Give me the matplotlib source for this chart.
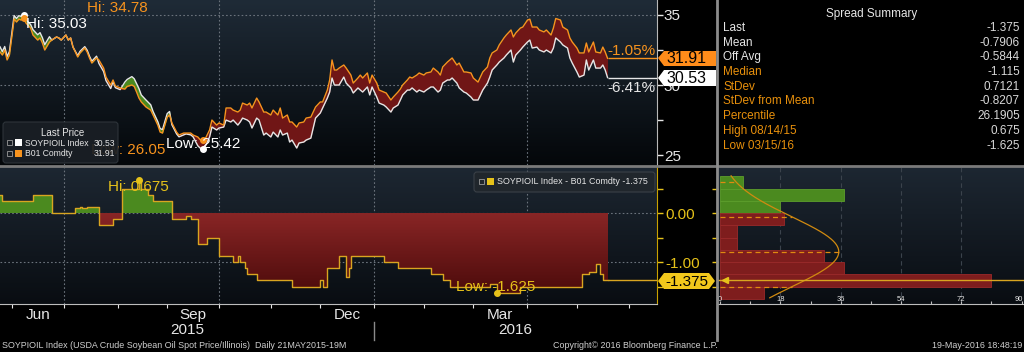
import numpy as np
import pandas as pd
import matplotlib
matplotlib.use('Agg')
import matplotlib.pyplot as plt
from matplotlib.colors import LinearSegmentedColormap
from matplotlib.patches import Polygon, FancyBboxPatch, Rectangle
from matplotlib.lines import Line2D
from matplotlib.transforms import Affine2D, blended_transform_factory

plt.rcParams['font.family'] = ['Liberation Sans', 'DejaVu Sans']

# trading days counted from 21 May 2015
day = [2, 3, 4, 5, 6, 7, 8, 9, 10, 11, 12, 13, 15, 16, 18, 19, 20, 21, 23, 24,
       26, 27, 28, 30, 31, 32, 33, 35, 36, 38, 39, 40, 41, 43, 44, 46, 47, 49, 50, 51,
       53, 55, 56, 58, 59, 60, 61, 62, 64, 66, 67, 69, 70, 71, 72, 73, 74, 75, 77, 78,
       80, 81, 83, 84, 86, 87, 88, 89, 91, 92, 94, 95, 97, 98, 100, 101, 103, 104, 105, 107,
       108, 109, 111, 112, 114, 115, 117, 118, 120, 121, 122, 124, 125, 126, 128, 129, 131, 132, 134, 136,
       138, 139, 141, 142, 143, 144, 145, 146, 148, 149, 151, 152, 154, 155, 156, 158, 159, 160, 162, 163,
       165, 166, 168, 169, 171, 172, 173, 175, 176, 177, 179, 180, 182, 183, 185, 186, 188, 189, 190, 192,
       193, 194, 196, 197, 199, 200, 202, 203, 205, 206, 207, 209, 210, 211, 213, 214, 216, 217, 219, 220,
       221, 223, 224, 226, 227, 228, 230, 231, 233, 234, 236, 237, 238, 240, 241, 243, 244, 245, 247, 248,
       250, 251, 252, 254, 255, 257, 258, 259, 260]

b01 = [32.36, 32.14, 32.50, 31.79, 32.14, 33.43, 34.71, 34.50, 34.70, 34.64, 34.78, 34.43, 34.07, 33.57, 33.21, 33.36, 33.00, 32.50, 33.07, 33.21,
       33.43, 33.36, 33.21, 33.57, 33.21, 33.36, 32.71, 32.00, 32.29, 32.64, 32.36, 31.93, 31.57, 31.93, 31.79, 31.21, 30.57, 30.00, 30.36, 29.93,
       29.79, 29.71, 29.90, 30.00, 29.90, 29.50, 29.07, 28.79, 28.43, 28.21, 27.86, 27.14, 26.64, 26.57, 27.14, 27.71, 27.86, 27.29, 26.64, 26.43,
       26.57, 26.57, 26.57, 26.43, 26.29, 26.10, 26.05, 26.10, 26.79, 27.50, 27.14, 27.29, 27.14, 28.36, 28.36, 28.21, 28.07, 28.21, 28.71, 28.57,
       28.71, 28.36, 29.07, 28.79, 28.07, 28.07, 27.86, 28.21, 27.86, 28.36, 27.64, 27.86, 27.36, 27.36, 27.00, 27.29, 27.36, 27.64, 27.71, 28.43,
       28.79, 28.79, 29.64, 30.36, 31.79, 31.07, 31.07, 31.21, 31.43, 31.21, 30.71, 30.14, 30.50, 30.71, 30.50, 30.86, 30.14, 30.71, 30.14, 29.64,
       29.50, 29.43, 28.93, 29.14, 29.50, 29.71, 30.00, 30.36, 30.57, 30.50, 30.71, 30.86, 30.71, 30.86, 30.93, 31.21, 30.93, 30.71, 31.29, 31.64,
       31.79, 31.93, 31.43, 31.57, 30.93, 30.93, 30.86, 30.50, 30.21, 30.57, 30.93, 31.29, 31.93, 32.29, 32.50, 32.86, 33.36, 33.57, 33.93, 33.43,
       33.71, 34.07, 34.14, 34.64, 34.70, 34.14, 34.14, 33.93, 33.79, 33.93, 33.57, 34.07, 34.75, 34.64, 34.14, 33.93, 33.36, 33.07, 32.64, 32.29,
       32.29, 33.00, 32.36, 33.07, 32.36, 32.29, 32.71, 32.36, 31.91]

soy = [32.73, 32.39, 32.75, 32.04, 32.39, 33.68, 34.96, 34.75, 34.95, 34.89, 35.03, 34.68, 34.32, 33.95, 33.59, 33.74, 33.38, 32.88, 33.45, 33.21,
       33.43, 33.36, 33.21, 33.57, 33.21, 33.36, 32.71, 32.10, 32.41, 32.74, 32.49, 32.06, 31.70, 32.06, 31.54, 30.96, 30.32, 29.75, 30.24, 29.81,
       29.67, 30.21, 30.40, 30.60, 30.45, 30.10, 29.75, 29.29, 28.93, 28.59, 28.11, 27.39, 26.89, 26.82, 27.39, 27.96, 28.11, 27.16, 26.51, 26.30,
       26.44, 26.51, 26.44, 26.30, 25.66, 25.50, 25.42, 25.55, 26.29, 27.00, 26.79, 26.93, 27.00, 27.50, 27.36, 27.50, 27.14, 27.36, 27.64, 27.50,
       27.36, 26.93, 27.64, 27.50, 26.43, 26.57, 26.29, 26.64, 26.29, 26.79, 26.43, 26.57, 25.93, 26.07, 25.50, 25.86, 25.93, 26.07, 26.21, 27.64,
       28.00, 28.36, 29.07, 29.50, 30.50, 30.00, 30.00, 30.00, 30.57, 30.14, 29.79, 29.43, 29.79, 29.64, 29.50, 29.86, 29.29, 29.86, 29.14, 28.71,
       28.57, 28.43, 28.07, 28.36, 28.57, 28.93, 29.29, 29.64, 29.64, 29.79, 29.50, 29.64, 29.50, 29.64, 29.86, 29.86, 29.50, 29.64, 30.14, 30.36,
       30.36, 30.50, 30.14, 29.79, 29.50, 29.43, 29.14, 28.93, 28.93, 29.29, 29.64, 30.14, 30.57, 31.07, 31.43, 31.64, 31.93, 32.14, 32.50, 31.64,
       32.14, 32.50, 32.71, 33.07, 33.21, 32.64, 32.71, 32.50, 32.36, 32.50, 32.29, 32.64, 33.36, 33.07, 32.86, 32.64, 31.93, 31.57, 30.93, 30.57,
       30.71, 31.79, 31.07, 31.79, 31.21, 31.21, 31.43, 31.07, 30.53]

spread_day = [0, 3, 16, 24, 34, 36, 37, 39, 44, 50, 54, 61, 62, 65, 67, 75, 81, 83, 86, 90,
              95, 101, 103, 104, 106, 107, 111, 126, 138, 139, 141, 146, 149, 150, 151, 165, 171, 185, 190, 193,
              210, 213, 223, 249, 252, 255, 257, 258, 260]
spread_val = [0.375, 0.25, 0.375, 0.0, 0.10, 0.125, 0.10, 0.125, -0.25, -0.125, 0.5, 0.675, 0.5, 0.375, 0.25, -0.125, -0.0625, -0.125, -0.625, -0.5,
              -0.875, -1.0, -0.875, -1.0, -1.125, -1.25, -1.375, -1.5, -1.375, -1.5, -1.125, -0.875, -1.3, -1.125, -0.875, -1.0, -1.125, -1.25, -1.375, -1.5,
              -1.45, -1.625, -1.5, -1.25, -1.2, -1.05, -1.25, -1.375, -1.375]

hist_bottom = [0.5, 0.25, 0.0, -0.25, -0.5, -0.75, -1.0, -1.25, -1.5, -1.75]
hist_count = [7, 37, 18, 19, 5, 5, 31, 37, 81, 13]

summary_labels = ['Last', 'Mean', 'Off Avg', 'Median', 'StDev', 'StDev from Mean',
                  'Percentile', 'High 08/14/15', 'Low 03/15/16']
summary_values = ['-1.375', '-0.7906', '-0.5844', '-1.115', '0.7121', '-0.8207',
                  '26.1905', '0.675', '-1.625']
spread_mean = -0.7906
spread_sd = 0.7121

ORANGE = '#f7931e'
WHITE = '#e6e6e6'
YELLOW = '#e6c21a'
RED = '#701616'
GREEN = '#4b8a1f'

W, H = 1024, 352
fig = plt.figure(figsize=(W / 100, H / 100), dpi=100, facecolor='black')
px = Affine2D().scale(1 / W, -1 / H).translate(0, 1) + fig.transFigure


def gradient(ax, top, bottom):
    cm = LinearSegmentedColormap.from_list('g', [bottom, top])
    ax.imshow(np.linspace(0, 1, 256)[:, None], extent=[0, 1, 0, 1], transform=ax.transAxes,
              origin='lower', aspect='auto', cmap=cm, zorder=0)


dates = pd.bdate_range('2015-05-21', '2016-07-15')
mstart = [i for i in range(1, len(dates)) if dates[i].month != dates[i - 1].month]
XMIN, XMAX = 2, 281
quarters = [i for i in mstart if dates[i].month in (1, 4, 7, 10) and i < XMAX]
jan = [i for i in mstart if dates[i].month == 1][0]

day = np.array(day)
b01 = np.array(b01)
soy = np.array(soy)

# ---- top panel
ax1 = fig.add_axes([0, 1 - 165 / H, 657 / W, 165 / H])
gradient(ax1, '#1f2b37', '#04070a')
ax1.fill_between(day, b01, np.maximum(soy, b01), color=GREEN, lw=0, zorder=2)
ax1.fill_between(day, np.minimum(soy, b01), b01, color=RED, lw=0, zorder=2)
ax1.plot(day, soy, color=WHITE, lw=1.0, zorder=3)
ax1.plot(day, b01, color=ORANGE, lw=1.0, zorder=4)
ax1.hlines(soy[-1], day[-1], XMAX, color=WHITE, lw=1.0, zorder=3)
ax1.hlines(b01[-1], day[-1], XMAX, color=ORANGE, lw=1.0, zorder=4)
for v in (30, 35):
    ax1.axhline(v, color='#6b737c', lw=0.8, ls=(0, (1.5, 2)), zorder=1)
for q in quarters:
    ax1.axvline(q, color='#6b737c', lw=0.8, ls=(0, (1.5, 2)), zorder=1)
ax1.yaxis.tick_right()
ax1.set_yticks([25, 30, 35])
ax1.set_yticks([27.5, 32.5], minor=True)
ax1.tick_params(axis='y', which='both', colors=WHITE, labelsize=11, length=4, width=1, pad=1)
ax1.set_xticks([])
ax1.set_xlim(XMIN, XMAX)
ax1.set_ylim(24.29, 36.07)
for s in ('top', 'left', 'bottom'):
    ax1.spines[s].set_visible(False)
ax1.spines['right'].set_color('#b8b8b8')

ih = int(np.argmax(soy))
ax1.plot(day[ih], soy[ih], 'o', color='white', ms=4, zorder=6)
ax1.annotate('Hi: %.2f' % soy[ih], (day[ih], soy[ih]), xytext=(2, -9), textcoords='offset pixels',
             color='white', fontsize=11, va='center', ha='left', zorder=7)
ih = int(np.argmax(b01))
ax1.plot(day[ih], b01[ih], 'o', color=ORANGE, ms=4, zorder=6)
ax1.annotate('Hi: %.2f' % b01[ih], (day[ih], b01[ih]), xytext=(63, 10), textcoords='offset pixels',
             color=ORANGE, fontsize=11, va='center', ha='left', zorder=7)
il = int(np.argmin(soy))
ax1.plot(day[il], soy[il], 'o', color='white', ms=4, zorder=6)
ax1.annotate('Low: %.2f' % soy[il], (day[il], soy[il]), xytext=(-37, 5), textcoords='offset pixels',
             color='white', fontsize=11, va='center', ha='left', zorder=7)
il = int(np.argmin(b01))
ax1.plot(day[il], b01[il], 'o', color=ORANGE, ms=4, zorder=6)
ax1.annotate('Low: %.2f' % b01[il], (day[il], b01[il]), xytext=(-112, -10), textcoords='offset pixels',
             color=ORANGE, fontsize=11, va='center', ha='left', zorder=5)

# legend of top panel
ax1.add_patch(FancyBboxPatch((3, 122), 115, 41, boxstyle='round,pad=0,rounding_size=3', transform=px,
                             facecolor='#1a1f25', edgecolor='#30363c', lw=0.8, alpha=0.93, zorder=8))
fig.text(63, 133, 'Last Price', transform=px, color=WHITE, fontsize=7, ha='center', va='center', zorder=9)
for yy, col, name, val in ((143, 'white', 'SOYPIOIL Index', soy[-1]), (154, ORANGE, 'B01 Comdty', b01[-1])):
    fig.add_artist(Rectangle((7, yy - 3), 5, 5, transform=px, facecolor='none', edgecolor='#9a9a9a', lw=0.6))
    fig.add_artist(Rectangle((15, yy - 4), 7, 7, transform=px, facecolor=col, edgecolor='none'))
    fig.text(25, yy, name, transform=px, color=WHITE, fontsize=6.2, va='center')
    fig.text(115, yy, '%.2f' % val, transform=px, color=WHITE, fontsize=6.2, va='center', ha='right')

fig.text(655, 51, '-1.05%', transform=px, color=ORANGE, fontsize=11, ha='right', va='center')
fig.text(655, 88, '-6.41%', transform=px, color=WHITE, fontsize=11, ha='right', va='center')

fig.add_artist(Polygon([(658, 58), (664, 51), (716, 51), (716, 66), (664, 66)], transform=px,
                       facecolor='#ff8c1a', edgecolor='none'))
fig.text(666, 58.5, '%.2f' % b01[-1], transform=px, color='black', fontsize=11.5, va='center')
fig.add_artist(Polygon([(658, 78), (664, 70), (716, 70), (716, 86), (664, 86)], transform=px,
                       facecolor='white', edgecolor='none'))
fig.text(666, 78.5, '%.2f' % soy[-1], transform=px, color='black', fontsize=11.5, va='center')

# ---- spread panel
sd = np.array(spread_day)
sv = np.array(spread_val)
ax2 = fig.add_axes([0, 1 - 304 / H, 657 / W, 137 / H])
gradient(ax2, '#1d2732', '#090d12')
for v in (0, -1):
    ax2.axhline(v, color='#6b737c', lw=0.8, ls=(0, (1.5, 2)), zorder=1)
for q in quarters:
    ax2.axvline(q, color='#6b737c', lw=0.8, ls=(0, (1.5, 2)), zorder=1)
ax2.fill_between(sd, np.maximum(sv, 0), 0, step='post', color=GREEN, lw=0, zorder=2)
neg = ax2.fill_between(sd, np.minimum(sv, 0), 0, step='post', facecolor='none', lw=0, zorder=2)
red_cm = LinearSegmentedColormap.from_list('r', ['#4a0a0a', '#8a2626'])
img = ax2.imshow(np.linspace(0, 1, 256)[:, None], extent=[0, XMAX, -1.7, 0], origin='lower',
                 aspect='auto', cmap=red_cm, zorder=2)
img.set_clip_path(neg.get_paths()[0], ax2.transData)
ax2.plot(sd, sv, drawstyle='steps-post', color='#d9a520', lw=1.0, zorder=3)
ax2.hlines(sv[-1], sd[-1], XMAX, color='#d9a520', lw=1.0, zorder=3)
ih = int(np.argmax(sv))
ax2.plot(sd[ih], sv[ih], 'o', color=YELLOW, ms=4, zorder=5)
ax2.annotate('Hi: %.3f' % sv[ih], (sd[ih], sv[ih]), xytext=(-31, -7), textcoords='offset pixels',
             color=YELLOW, fontsize=11, va='center', ha='left', zorder=6)
il = int(np.argmin(sv))
ax2.plot(sd[il], sv[il], 'o', color=YELLOW, ms=4, zorder=5)
ax2.annotate('Low: %.3f' % sv[il], (sd[il], sv[il]), xytext=(-41, 6), textcoords='offset pixels',
             color=YELLOW, fontsize=11, va='center', ha='left', zorder=6)
ax2.yaxis.tick_right()
ax2.set_yticks([0, -1])
ax2.set_yticklabels(['0.00', '-1.00'])
ax2.set_yticks([0.5, -0.5, -1.5], minor=True)
ax2.tick_params(axis='y', which='both', colors=YELLOW, labelsize=11, length=4, width=1, pad=2)
ticks = [i for i in mstart if i < XMAX]
ax2.set_xticks(ticks)
ax2.set_xticklabels([])
ax2.tick_params(axis='x', colors=WHITE, length=3, width=0.8, direction='out')
mids = [(a + b) / 2 for a, b in zip(mstart[:-1], mstart[1:]) if (a + b) / 2 < day[-1]]
ax2.set_xticks(mids, minor=True)
ax2.set_xticklabels([dates[int(m)].strftime('%b') if dates[int(m)].month in (6, 9, 12, 3) else ''
                     for m in mids], minor=True)
ax2.tick_params(axis='x', which='minor', length=0, colors=WHITE, labelsize=11, pad=3)
ax2.set_xlim(XMIN, XMAX)
ax2.set_ylim(-1.857, 0.94)
for s in ('top', 'left'):
    ax2.spines[s].set_visible(False)
ax2.spines['right'].set_color('#c9a200')
ax2.spines['bottom'].set_color('#bdbdbd')
bt = blended_transform_factory(ax2.transData, ax2.transAxes)
ax2.text((XMIN + jan) / 2, -0.19, '2015', transform=bt, color=WHITE, fontsize=11, ha='center', va='center')
ax2.text((jan + XMAX) / 2, -0.19, '2016', transform=bt, color=WHITE, fontsize=11, ha='center', va='center')
ax2.plot([jan, jan], [-0.13, -0.26], transform=bt, color='#8a8a8a', lw=1, clip_on=False)

ax2.add_patch(FancyBboxPatch((474, 172), 181, 20, boxstyle='round,pad=0,rounding_size=3', transform=px,
                             facecolor='#20262c', edgecolor='#3a4047', lw=0.8, zorder=8))
fig.add_artist(Rectangle((479, 179), 5, 5, transform=px, facecolor='none', edgecolor='#9a9a9a', lw=0.6))
fig.add_artist(Rectangle((487, 178), 7, 7, transform=px, facecolor=YELLOW, edgecolor='none'))
fig.text(497, 182, 'SOYPIOIL Index - B01 Comdty %.3f' % sv[-1], transform=px, color=WHITE,
         fontsize=6.4, va='center')

fig.add_artist(Polygon([(658, 281), (664, 273), (709, 273), (715, 281), (709, 289), (664, 289)],
                       transform=px, facecolor='#f2c81c', edgecolor='none'))
fig.text(686.5, 281.5, '%.3f' % sv[-1], transform=px, color='black', fontsize=11, ha='center', va='center')

# ---- histogram panel
ax3 = fig.add_axes([718 / W, 1 - 304 / H, 306 / W, 137 / H])
gradient(ax3, '#1d2732', '#090d12')
for v in (18, 36, 54, 72):
    ax3.axvline(v, color='#3b434c', lw=0.8, ls=(0, (4, 3)), zorder=1)
hb = np.array(hist_bottom)
cols = [GREEN if b >= 0 else '#7e1d1d' for b in hb]
edges = ['#5d9e2c' if b >= 0 else '#9a2a2a' for b in hb]
ax3.barh(hb, hist_count, height=0.25, align='edge', color=cols, edgecolor=edges, lw=0.6, zorder=2)
yy = np.linspace(-1.73, 0.76, 200)
scale = sum(hist_count) * 0.25 / (spread_sd * np.sqrt(2 * np.pi))
ax3.plot(scale * np.exp(-0.5 * ((yy - spread_mean) / spread_sd) ** 2), yy, color='#d08a10', lw=0.9, zorder=4)
for k in (-1, 0, 1, 2):
    y0 = spread_mean + k * spread_sd
    ax3.plot([0, scale * np.exp(-0.5 * k * k)], [y0, y0], color='#e08a10', lw=0.9, ls=(0, (4, 3)), zorder=4)
ax3.axhline(sv[-1], color='#d9a520', lw=1.0, zorder=5)
ax3.plot(1.5, sv[-1], marker='<', color=YELLOW, ms=5, zorder=6)
for v in (0, 18, 36, 54, 72, 90):
    ax3.text(min(v, 89.2), -1.77, str(v), color=WHITE, fontsize=5.5, ha='center', va='center', zorder=6)
ax3.set_xticks(np.arange(0, 91, 9))
ax3.set_xticklabels([])
ax3.tick_params(axis='x', colors='#bdbdbd', length=2, direction='in')
ax3.set_yticks([0, -1])
ax3.set_yticks([0.5, -0.5, -1.5], minor=True)
ax3.set_yticklabels([])
ax3.tick_params(axis='y', which='both', colors=YELLOW, length=4, width=1, direction='out')
ax3.set_xlim(-0.6, 90.7)
ax3.set_ylim(-1.857, 0.94)
for s in ('top', 'right', 'left'):
    ax3.spines[s].set_visible(False)
ax3.spines['bottom'].set_color('#bdbdbd')

# ---- separators
fig.add_artist(Line2D([0, W], [166, 166], transform=px, color='#7a7a7a', lw=2))
fig.add_artist(Line2D([717, 717], [0, 340], transform=px, color='#8c8c8c', lw=2))

# ---- spread summary
fig.text(872, 14, 'Spread Summary', transform=px, color=WHITE, fontsize=8.5, ha='center', va='center')
for i, (lab, val) in enumerate(zip(summary_labels, summary_values)):
    y = 28 + i * 14.7
    fig.text(723, y, lab, transform=px, color=WHITE if i < 3 else '#e8900c', fontsize=8.5, va='center')
    fig.text(1020, y, val, transform=px, color='#d8d8d8', fontsize=8.5, va='center', ha='right')

# ---- footer
fig.text(2, 346, 'SOYPIOIL Index (USDA Crude Soybean Oil Spot Price/Illinois)  Daily 21MAY2015-19M',
         transform=px, color='#d0d0d0', fontsize=6.4, va='center')
fig.text(718, 346, 'Copyright\u00a9 2016 Bloomberg Finance L.P.', transform=px, color='#d0d0d0',
         fontsize=6.4, va='center', ha='right')
fig.text(1022, 346, '19-May-2016 18:48:19', transform=px, color='#d0d0d0', fontsize=6.4, va='center', ha='right')

fig.savefig('out.png', dpi=100, facecolor='black')
